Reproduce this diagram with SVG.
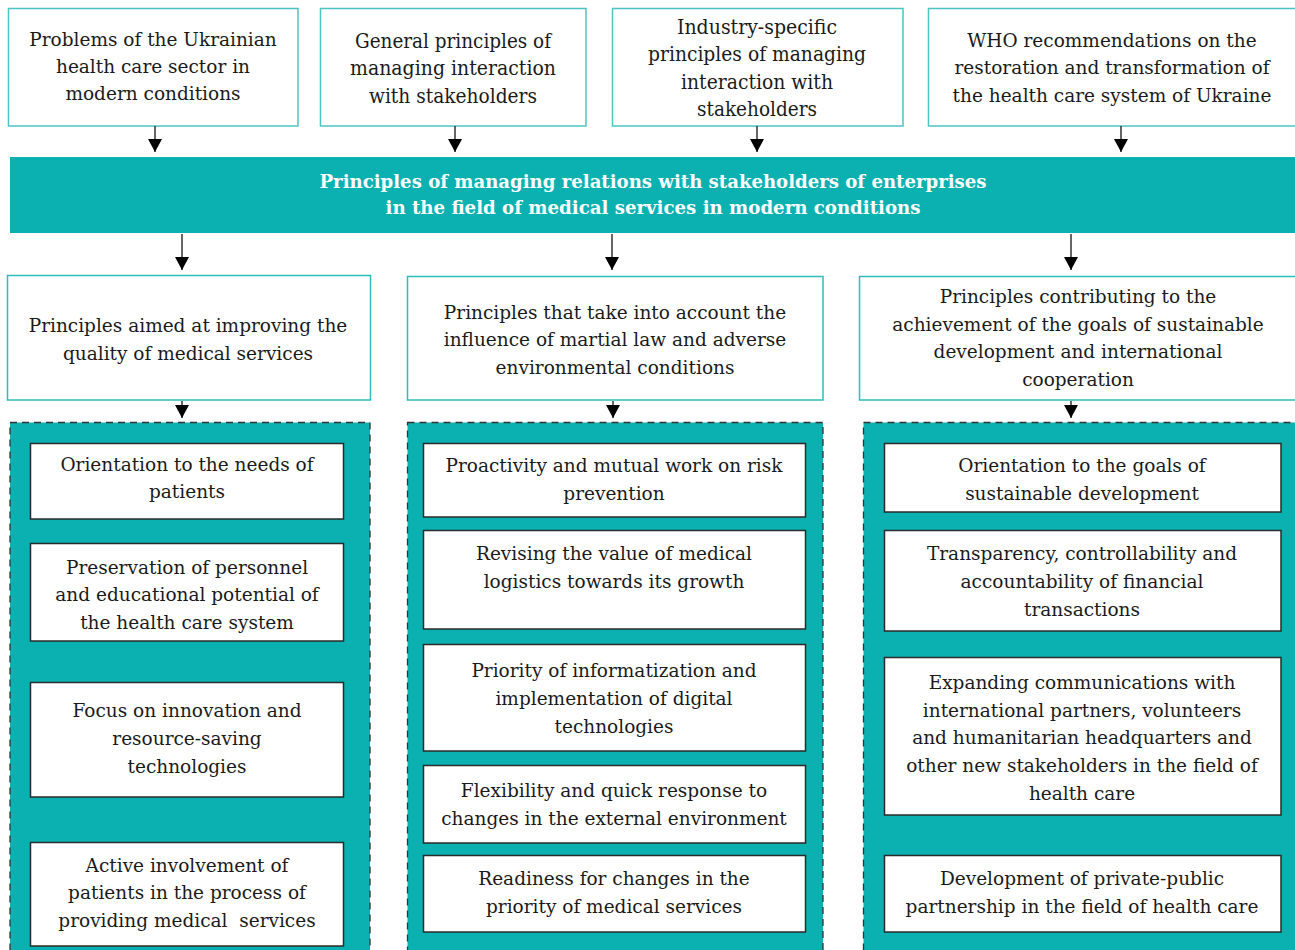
<svg xmlns="http://www.w3.org/2000/svg" width="1295" height="950" viewBox="0 0 1295 950">
<defs>
<marker id="ah" markerWidth="13" markerHeight="14" refX="13" refY="7" orient="auto" markerUnits="userSpaceOnUse" viewBox="0 0 13 14">
<path d="M0,0 L13,7 L0,14 Z" fill="#000"/>
</marker>
</defs>
<style>
.top{fill:#fff;stroke:#4cc4c4;stroke-width:1.5}
.mid{fill:#fff;stroke:#2fbcbc;stroke-width:1.5}
.cont{fill:#0bb1b0;stroke:#333;stroke-width:1.3;stroke-dasharray:7 5}
.inner{fill:#fff;stroke:#2a2a2a;stroke-width:1.5}
.banner{fill:#0bb1b0}
text{font-family:"DejaVu Serif","Liberation Serif",serif;font-size:18.5px;fill:#1a1a1a;text-anchor:middle}
.cond{font-size:20px}
.bt{font-weight:bold;fill:#fff;font-size:18px}
.conn line{stroke:#333;stroke-width:1.5}
</style>

<g id="top1">
<rect class="top" x="8.5" y="8.5" width="289.5" height="117.5"/>
<text x="153" y="46">Problems of the Ukrainian</text>
<text x="153" y="73">health care sector in</text>
<text x="153" y="100">modern conditions</text>
</g>
<g id="top2">
<rect class="top" x="320.5" y="8.5" width="265.5" height="117.5"/>
<text class="cond" x="453" y="48" textLength="196" lengthAdjust="spacingAndGlyphs">General principles of</text>
<text class="cond" x="453" y="75" textLength="206" lengthAdjust="spacingAndGlyphs">managing interaction</text>
<text class="cond" x="453" y="103" textLength="168" lengthAdjust="spacingAndGlyphs">with stakeholders</text>
</g>
<g id="top3">
<rect class="top" x="612.5" y="8.5" width="290.5" height="117.5"/>
<text class="cond" x="757" y="34" textLength="160" lengthAdjust="spacingAndGlyphs">Industry-specific</text>
<text class="cond" x="757" y="61" textLength="218" lengthAdjust="spacingAndGlyphs">principles of managing</text>
<text class="cond" x="757" y="89" textLength="152" lengthAdjust="spacingAndGlyphs">interaction with</text>
<text class="cond" x="757" y="116" textLength="120" lengthAdjust="spacingAndGlyphs">stakeholders</text>
</g>
<g id="top4">
<rect class="top" x="928.5" y="8.5" width="380" height="117.5"/>
<text x="1112" y="47">WHO recommendations on the</text>
<text x="1112" y="74">restoration and transformation of</text>
<text x="1112" y="102">the health care system of Ukraine</text>
</g>

<g id="banner">
<rect class="banner" x="10" y="157" width="1290" height="76"/>
<text class="bt" x="653" y="188" textLength="667" lengthAdjust="spacingAndGlyphs">Principles of managing relations with stakeholders of enterprises</text>
<text class="bt" x="653" y="214" textLength="535" lengthAdjust="spacingAndGlyphs">in the field of medical services in modern conditions</text>
</g>

<g id="midA">
<rect class="mid" x="7.5" y="275.5" width="363" height="124.5"/>
<text x="188" y="332">Principles aimed at improving the</text>
<text x="188" y="360">quality of medical services</text>
</g>
<g id="midB">
<rect class="mid" x="407.5" y="276.5" width="415.5" height="123.5"/>
<text x="615" y="319">Principles that take into account the</text>
<text x="615" y="346">influence of martial law and adverse</text>
<text x="615" y="374">environmental conditions</text>
</g>
<g id="midC">
<rect class="mid" x="859.5" y="276.5" width="450" height="123.5"/>
<text x="1078" y="303">Principles contributing to the</text>
<text x="1078" y="331">achievement of the goals of sustainable</text>
<text x="1078" y="358">development and international</text>
<text x="1078" y="386">cooperation</text>
</g>

<g id="groupA">
<rect class="cont" x="10" y="422.5" width="360" height="540"/>
<g id="a1"><rect class="inner" x="30.5" y="443.5" width="313" height="75.5"/>
<text x="187" y="471">Orientation to the needs of</text><text x="187" y="498">patients</text></g>
<g id="a2"><rect class="inner" x="30.5" y="543.5" width="313" height="97.5"/>
<text x="187" y="574">Preservation of personnel</text><text x="187" y="601">and educational potential of</text><text x="187" y="629">the health care system</text></g>
<g id="a3"><rect class="inner" x="30.5" y="682.5" width="313" height="114.5"/>
<text x="187" y="717">Focus on innovation and</text><text x="187" y="745">resource-saving</text><text x="187" y="773">technologies</text></g>
<g id="a4"><rect class="inner" x="30.5" y="842.5" width="313" height="103.5"/>
<text x="187" y="872">Active involvement of</text><text x="187" y="899">patients in the process of</text><text x="187" y="927" xml:space="preserve">providing medical  services</text></g>
</g>

<g id="groupB">
<rect class="cont" x="407.5" y="422.5" width="415.5" height="540"/>
<g id="b1"><rect class="inner" x="423.5" y="443.5" width="382" height="73.5"/>
<text x="614" y="472">Proactivity and mutual work on risk</text><text x="614" y="500">prevention</text></g>
<g id="b2"><rect class="inner" x="423.5" y="530.5" width="382" height="98.5"/>
<text x="614" y="560">Revising the value of medical</text><text x="614" y="588">logistics towards its growth</text></g>
<g id="b3"><rect class="inner" x="423.5" y="644.5" width="382" height="106.5"/>
<text x="614" y="677">Priority of informatization and</text><text x="614" y="705">implementation of digital</text><text x="614" y="733">technologies</text></g>
<g id="b4"><rect class="inner" x="423.5" y="765.5" width="382" height="77.5"/>
<text x="614" y="797">Flexibility and quick response to</text><text x="614" y="825">changes in the external environment</text></g>
<g id="b5"><rect class="inner" x="423.5" y="855.5" width="382" height="76.5"/>
<text x="614" y="885">Readiness for changes in the</text><text x="614" y="913">priority of medical services</text></g>
</g>

<g id="groupC">
<rect class="cont" x="863.5" y="422.5" width="450" height="540"/>
<g id="c1"><rect class="inner" x="884.5" y="443.5" width="396.5" height="68.5"/>
<text x="1082" y="472">Orientation to the goals of</text><text x="1082" y="500">sustainable development</text></g>
<g id="c2"><rect class="inner" x="884.5" y="530.5" width="396.5" height="100.5"/>
<text x="1082" y="560">Transparency, controllability and</text><text x="1082" y="588">accountability of financial</text><text x="1082" y="616">transactions</text></g>
<g id="c3"><rect class="inner" x="884.5" y="657.5" width="396.5" height="157.5"/>
<text x="1082" y="689">Expanding communications with</text><text x="1082" y="717">international partners, volunteers</text><text x="1082" y="744">and humanitarian headquarters and</text><text x="1082" y="772">other new stakeholders in the field of</text><text x="1082" y="800">health care</text></g>
<g id="c4"><rect class="inner" x="884.5" y="855.5" width="396.5" height="76.5"/>
<text x="1082" y="885">Development of private-public</text><text x="1082" y="913">partnership in the field of health care</text></g>
</g>

<g id="connectors" class="conn">
<line x1="155" y1="126" x2="155" y2="152" marker-end="url(#ah)"/>
<line x1="455" y1="126" x2="455" y2="152" marker-end="url(#ah)"/>
<line x1="757" y1="126" x2="757" y2="152" marker-end="url(#ah)"/>
<line x1="1121" y1="126" x2="1121" y2="152" marker-end="url(#ah)"/>
<line x1="182" y1="234" x2="182" y2="270" marker-end="url(#ah)"/>
<line x1="612" y1="234" x2="612" y2="270" marker-end="url(#ah)"/>
<line x1="1071" y1="234" x2="1071" y2="270" marker-end="url(#ah)"/>
<line x1="182" y1="401" x2="182" y2="418" marker-end="url(#ah)"/>
<line x1="613" y1="401" x2="613" y2="418" marker-end="url(#ah)"/>
<line x1="1071" y1="401" x2="1071" y2="418" marker-end="url(#ah)"/>
</g>
</svg>
